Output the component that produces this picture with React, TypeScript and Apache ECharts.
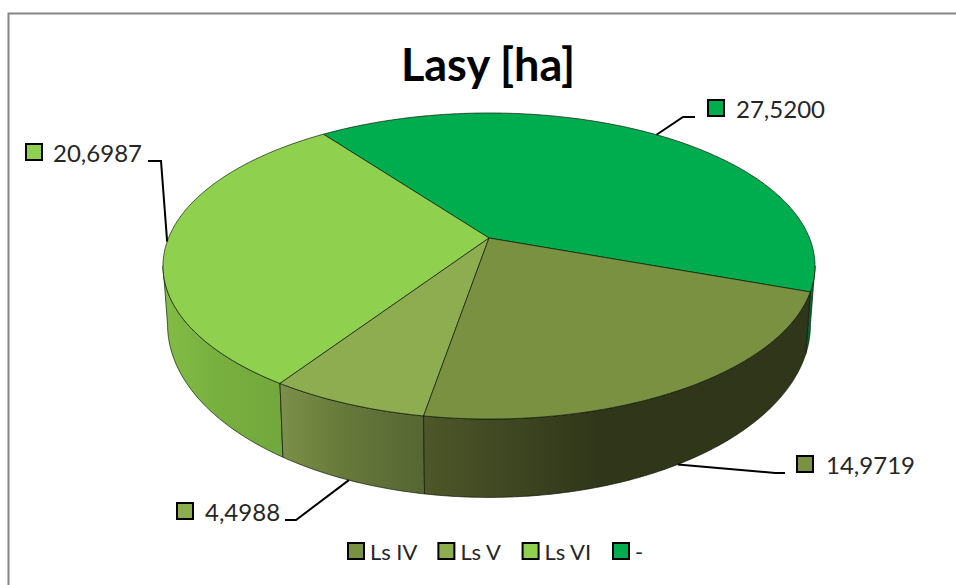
import React, { useEffect, useRef } from "react";
import * as echarts from "echarts";

const categories = ["Ls IV", "Ls V", "Ls VI", "-"];
const values = [14.9719, 4.4988, 20.6987, 27.52];
const valueLabels = ["14,9719", "4,4988", "20,6987", "27,5200"];
const topColors = ["#7A9141", "#8EAC50", "#90D04F", "#00AD4E"];
const wallStops = [
  ["#4E5729", "#2F361A", "#2F361A"],
  ["#7C9049", "#66793A", "#566634"],
  ["#82BC45", "#78B03F", "#72A83C"],
  ["#006B34", "#006B34", "#006B34"],
];
const chartTitle = "Lasy [ha]";

const START_DEG = 110;
const TOTAL = values.reduce((a, b) => a + b, 0);
const spans = values.map((v, i) => {
  const before = values.slice(0, i).reduce((a, b) => a + b, 0);
  return [START_DEG + (before / TOTAL) * 360, START_DEG + ((before + v) / TOTAL) * 360];
});

const K = 0.183;
const top = (deg: number) => {
  const t = (deg * Math.PI) / 180;
  const d = 1 + K * Math.cos(t);
  return [489 + (320.5 * Math.sin(t)) / d, 238 - (147.9 * Math.cos(t)) / d];
};
const bottom = (deg: number) => {
  const t = (deg * Math.PI) / 180;
  const d = 1 + K * Math.cos(t);
  return [489 + (316 * Math.sin(t)) / d, 293 - (167 * Math.cos(t)) / d];
};
const arc = (fn: (d: number) => number[], a: number, b: number) => {
  const n = Math.max(2, Math.ceil(Math.abs(b - a) * 2));
  const pts: number[][] = [];
  for (let i = 0; i <= n; i++) pts.push(fn(a + ((b - a) * i) / n));
  return pts;
};

const WALL_FROM = 100.5;
const WALL_TO = 259.5;
const EDGE = "rgba(10,20,5,0.85)";
const TXT = "#262626";
const labelFont = "24px Lato";

// leader end-points and label placement, per slice (anchor comes from the slice's mid angle)
const leaderLayout = [
  { rim: bottom, path: [[775, 473], [785, 473]], box: [797, 456], textX: 826, textY: 464 },
  { rim: bottom, path: [[296, 520], [285, 520]], box: [177, 503], textX: 205, textY: 511 },
  { rim: top, path: [[161, 161], [148, 161]], box: [26, 144], textX: 53, textY: 152 },
  { rim: top, path: [[683, 117], [695, 117]], box: [708, 100], textX: 736, textY: 108 },
];

function renderSlice(i: number) {
  const [a, b] = spans[i];
  const children: any[] = [];
  // the last slice wraps past 360°: its near wall is the part before the first slice
  const ranges: number[][] = [];
  const lo = Math.max(a, WALL_FROM);
  const hi = Math.min(b, WALL_TO);
  if (hi > lo) ranges.push([lo, hi]);
  const lo2 = Math.max(a - 360, WALL_FROM);
  const hi2 = Math.min(b - 360, WALL_TO);
  if (hi2 > lo2) ranges.push([lo2, hi2]);
  ranges.forEach(([p, q]) => {
    children.push({
      type: "polygon",
      shape: { points: [...arc(top, p, q), ...arc(bottom, q, p)] },
      style: {
        fill: new echarts.graphic.LinearGradient(0, 0, 1, 0, [
          { offset: 0, color: wallStops[i][0] },
          { offset: 0.45, color: wallStops[i][1] },
          { offset: 1, color: wallStops[i][2] },
        ]),
        stroke: EDGE,
        lineWidth: 0.8,
      },
    });
  });
  children.push({
    type: "polygon",
    shape: { points: [[489, 238], ...arc(top, a, b)] },
    style: { fill: topColors[i], stroke: EDGE, lineWidth: 0.8 },
  });
  const L = leaderLayout[i];
  const mid = (a + b) / 2;
  children.push({
    type: "polyline",
    shape: { points: [L.rim(mid), ...L.path] },
    style: { fill: "none", stroke: "#000", lineWidth: 2 },
    z2: 5,
  });
  children.push({
    type: "rect",
    shape: { x: L.box[0], y: L.box[1], width: 16, height: 16 },
    style: { fill: topColors[i], stroke: "#000", lineWidth: 2 },
  });
  children.push({
    type: "text",
    style: {
      text: valueLabels[i],
      x: L.textX,
      y: L.textY,
      font: labelFont,
      fill: TXT,
      textAlign: "left",
      textVerticalAlign: "middle",
    },
  });
  return { type: "group", children };
}

const zOrder = [5, 4, 3, 2];

export default function App() {
  const ref = useRef<HTMLDivElement>(null);
  useEffect(() => {
    const chart = echarts.init(ref.current!, null, { renderer: "svg" });
    chart.setOption({
      animation: false,
      backgroundColor: "#fff",
      title: {
        text: chartTitle,
        left: 483,
        textAlign: "center",
        top: 36,
        textStyle: { fontFamily: "Lato", fontWeight: "bold", fontSize: 45, color: "#000" },
      },
      legend: {
        left: 347,
        top: 540,
        padding: 0,
        icon: "rect",
        itemWidth: 16,
        itemHeight: 16,
        itemGap: 20,
        itemStyle: { borderColor: "#000", borderWidth: 2 },
        textStyle: { fontFamily: "Lato", fontSize: 22, color: TXT, padding: [0, 0, 0, 1] },
        data: categories,
      },
      graphic: [
        {
          type: "rect",
          z: 0,
          shape: { x: 8.5, y: 13.5, width: 1000, height: 1000 },
          style: { fill: "#fff", stroke: "#868686", lineWidth: 2 },
        },
      ],
      series: categories.map((name, i) => ({
        type: "custom",
        name,
        coordinateSystem: "none",
        z: zOrder[i],
        silent: true,
        itemStyle: { color: topColors[i] },
        data: [[values[i]]],
        renderItem: () => renderSlice(i),
      })),
    });
    return () => chart.dispose();
  }, []);
  return (
    <div
      ref={ref}
      style={{ position: "fixed", left: 0, top: 0, width: 956, height: 585 }}
    />
  );
}
